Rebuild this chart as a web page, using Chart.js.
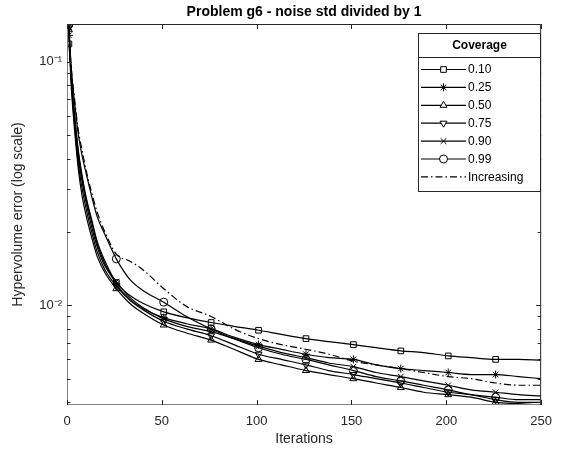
<!DOCTYPE html>
<html>
<head>
<meta charset="utf-8">
<script src="https://cdn.jsdelivr.net/npm/chart.js@4"></script>
<style>
  html, body { margin: 0; padding: 0; background: #fff; }
  #wrap { position: relative; width: 561px; height: 460px; }
</style>
</head>
<body>
<div id="wrap"><canvas id="c"></canvas></div>
<script>
const iterations = [1, 2, 3, 4, 6, 8, 10, 13, 16, 20, 26, 33, 40, 51, 63, 76, 88, 101, 113, 126, 138, 151, 163, 176, 188, 201, 213, 226, 238, 250];
// iterations that carry a marker
const markerIters = [1, 26, 51, 76, 101, 126, 151, 176, 201, 226];

const cov010 = [0.118, 0.092, 0.072, 0.060, 0.043, 0.034, 0.028, 0.0225, 0.0182, 0.0152, 0.0124, 0.0110, 0.0102, 0.0094, 0.0089, 0.0085, 0.0082, 0.0079, 0.0076, 0.0073, 0.0071, 0.0069, 0.0067, 0.0065, 0.0064, 0.0062, 0.0061, 0.0060, 0.0060, 0.00595];
const cov025 = [0.128, 0.095, 0.073, 0.060, 0.042, 0.033, 0.0275, 0.022, 0.0178, 0.0148, 0.0122, 0.0106, 0.0097, 0.0089, 0.0084, 0.0080, 0.0074, 0.0069, 0.0066, 0.0063, 0.0061, 0.0060, 0.0057, 0.0055, 0.0054, 0.0053, 0.0052, 0.0052, 0.0051, 0.0050];
const cov050 = [0.135, 0.085, 0.065, 0.052, 0.036, 0.028, 0.0235, 0.019, 0.0158, 0.0136, 0.0117, 0.0102, 0.0093, 0.0083, 0.0077, 0.0072, 0.0066, 0.0060, 0.0057, 0.0054, 0.0052, 0.0050, 0.0048, 0.0046, 0.0044, 0.0043, 0.0042, 0.0040, 0.00395, 0.0039];
const cov075 = [0.137, 0.090, 0.068, 0.055, 0.038, 0.030, 0.025, 0.020, 0.0165, 0.0140, 0.0120, 0.0105, 0.0096, 0.0086, 0.0080, 0.0075, 0.0069, 0.0063, 0.0060, 0.0057, 0.0054, 0.0052, 0.0050, 0.0048, 0.0046, 0.0044, 0.0043, 0.0041, 0.0040, 0.0040];
const cov090 = [0.138, 0.094, 0.071, 0.058, 0.040, 0.032, 0.0265, 0.021, 0.0173, 0.0145, 0.0125, 0.0108, 0.0098, 0.0088, 0.0082, 0.0078, 0.0073, 0.0068, 0.0064, 0.0061, 0.0058, 0.0056, 0.0053, 0.0051, 0.0049, 0.0047, 0.0045, 0.0044, 0.0043, 0.00425];
const cov099 = [0.142, 0.100, 0.080, 0.068, 0.050, 0.041, 0.035, 0.028, 0.023, 0.0195, 0.0155, 0.0128, 0.0115, 0.0103, 0.0090, 0.0080, 0.0073, 0.0067, 0.0063, 0.0060, 0.0057, 0.0054, 0.0051, 0.0049, 0.0047, 0.0045, 0.0043, 0.0042, 0.0041, 0.0041];
const increasing = [0.140, 0.100, 0.082, 0.070, 0.052, 0.043, 0.036, 0.029, 0.024, 0.020, 0.0162, 0.0152, 0.0140, 0.0117, 0.0099, 0.0090, 0.0080, 0.0073, 0.0069, 0.0066, 0.0063, 0.0059, 0.0057, 0.0055, 0.0053, 0.0051, 0.0050, 0.0048, 0.0047, 0.0047];

const seriesLabels = ['0.10', '0.25', '0.50', '0.75', '0.90', '0.99', 'Increasing'];
const seriesValues = [cov010, cov025, cov050, cov075, cov090, cov099, increasing];
const seriesMarkers = ['rect', 'star', 'triangle', 'triangle', 'crossRot', 'circle', false];
const seriesRotation = [0, 0, 0, 180, 0, 0, 0];

const xTicks = [0, 50, 100, 150, 200, 250];
const yTicks = [0.01, 0.1];
const yTickLabels = ['10⁻²', '10⁻¹'];

const FONT = "'Liberation Sans', Arial, Helvetica, sans-serif";
const INK = '#262626';
const DASHDOT = [7, 3, 1.5, 3];

const datasets = seriesLabels.map((label, i) => ({
  label,
  data: iterations.map((it, j) => ({ x: it, y: seriesValues[i][j] })),
  borderColor: '#000',
  backgroundColor: 'rgba(0,0,0,0)',
  borderWidth: 1.2,
  borderDash: seriesMarkers[i] ? [] : DASHDOT,
  cubicInterpolationMode: 'monotone',
  pointStyle: seriesMarkers[i] || 'circle',
  rotation: seriesRotation[i],
  pointBorderColor: '#000',
  pointBackgroundColor: 'rgba(0,0,0,0)',
  pointBorderWidth: 1,
  pointRadius: ctx => (seriesMarkers[i] && markerIters.includes(ctx.raw && ctx.raw.x)) ? 4 : 0,
  pointHoverRadius: 0
}));

// box, inward ticks, title and legend drawn the MATLAB way
const matlabFrame = {
  id: 'matlabFrame',
  afterDraw(chart) {
    const { ctx, chartArea: a, scales: { x, y } } = chart;
    ctx.save();
    ctx.lineWidth = 1;
    // left and bottom axis lines render lighter in the original
    ctx.strokeStyle = '#808080';
    ctx.beginPath();
    ctx.moveTo(a.left + 0.5, a.top); ctx.lineTo(a.left + 0.5, a.bottom - 0.5);
    ctx.lineTo(a.right, a.bottom - 0.5);
    ctx.stroke();
    ctx.strokeStyle = INK;
    ctx.beginPath();
    ctx.moveTo(a.left, a.top + 0.5); ctx.lineTo(a.right - 0.5, a.top + 0.5);
    ctx.lineTo(a.right - 0.5, a.bottom);
    ctx.stroke();
    ctx.beginPath();
    xTicks.forEach(v => {
      const px = Math.round(x.getPixelForValue(v)) + 0.5;
      ctx.moveTo(px, a.bottom); ctx.lineTo(px, a.bottom - 5);
      ctx.moveTo(px, a.top); ctx.lineTo(px, a.top + 5);
    });
    for (let e = -3; e <= -1; e++) {
      for (let m = 1; m <= 9; m++) {
        const v = m * Math.pow(10, e);
        if (v < y.min || v > y.max) continue;
        const py = Math.round(y.getPixelForValue(v)) + 0.5;
        const len = m === 1 ? 5 : 3.5;
        ctx.moveTo(a.left, py); ctx.lineTo(a.left + len, py);
        ctx.moveTo(a.right, py); ctx.lineTo(a.right - len, py);
      }
    }
    ctx.stroke();

    // title
    ctx.fillStyle = '#000';
    ctx.font = `bold 14px ${FONT}`;
    ctx.textAlign = 'center';
    ctx.textBaseline = 'middle';
    ctx.fillText('Problem g6 - noise std divided by 1', (a.left + a.right) / 2, 12);

    // legend
    const L = { left: 418.5, top: 33.5, width: 122, height: 158 };
    ctx.fillStyle = '#fff';
    ctx.fillRect(L.left, L.top, L.width, L.height);
    ctx.strokeStyle = INK;
    ctx.strokeRect(L.left, L.top, L.width, L.height);
    ctx.beginPath();
    ctx.moveTo(L.left, 57.5); ctx.lineTo(L.left + L.width, 57.5);
    ctx.stroke();
    ctx.fillStyle = '#000';
    ctx.font = `bold 12px ${FONT}`;
    ctx.fillText('Coverage', L.left + L.width / 2, 46);
    ctx.font = `12px ${FONT}`;
    ctx.textAlign = 'left';
    seriesLabels.forEach((label, i) => {
      const yy = 69.5 + i * 17.9;
      ctx.strokeStyle = '#000';
      ctx.lineWidth = 1.2;
      ctx.setLineDash(seriesMarkers[i] ? [] : DASHDOT);
      ctx.beginPath();
      ctx.moveTo(421, yy); ctx.lineTo(466, yy);
      ctx.stroke();
      ctx.setLineDash([]);
      if (seriesMarkers[i]) {
        ctx.fillStyle = '#fff';
        ctx.lineWidth = 1;
        Chart.helpers.drawPoint(ctx, { pointStyle: seriesMarkers[i], radius: 4, rotation: seriesRotation[i], borderWidth: 1 }, 443.5, yy);
      }
      ctx.fillStyle = '#000';
      ctx.fillText(label, 468, yy + 0.5);
    });
    ctx.restore();
  }
};

new Chart(document.getElementById('c'), {
  type: 'line',
  data: { datasets },
  options: {
    responsive: true,
    maintainAspectRatio: false,
    animation: false,
    layout: { padding: { top: 24, right: 11, left: 0, bottom: 0 } },
    plugins: {
      legend: { display: false },
      title: { display: false },
      tooltip: { enabled: false }
    },
    scales: {
      x: {
        type: 'linear',
        min: 0,
        max: 250,
        afterFit: s => { s.height = 55; },
        afterBuildTicks: s => { s.ticks = xTicks.map(v => ({ value: v })); },
        grid: { display: false, drawTicks: false },
        border: { display: false },
        ticks: { padding: 9, color: '#262626', font: { family: FONT, size: 13 }, maxRotation: 0, autoSkip: false },
        title: { display: true, text: 'Iterations', color: '#262626', font: { family: FONT, size: 14 }, padding: { top: 0, bottom: 12 } }
      },
      y: {
        type: 'logarithmic',
        min: 0.0039,
        max: 0.1425,
        afterFit: s => { s.width = 67; },
        afterBuildTicks: s => { s.ticks = yTicks.map(v => ({ value: v })); },
        grid: { display: false, drawTicks: false },
        border: { display: false },
        ticks: {
          padding: 5,
          color: '#262626',
          font: { family: FONT, size: 13 },
          autoSkip: false,
          callback: v => yTickLabels[yTicks.findIndex(t => Math.abs(t - v) / t < 1e-6)] || ''
        },
        title: { display: true, text: 'Hypervolume error (log scale)', color: '#262626', font: { family: FONT, size: 14 }, padding: { top: 10, bottom: 0 } }
      }
    }
  },
  plugins: [matlabFrame]
});
</script>
</body>
</html>
